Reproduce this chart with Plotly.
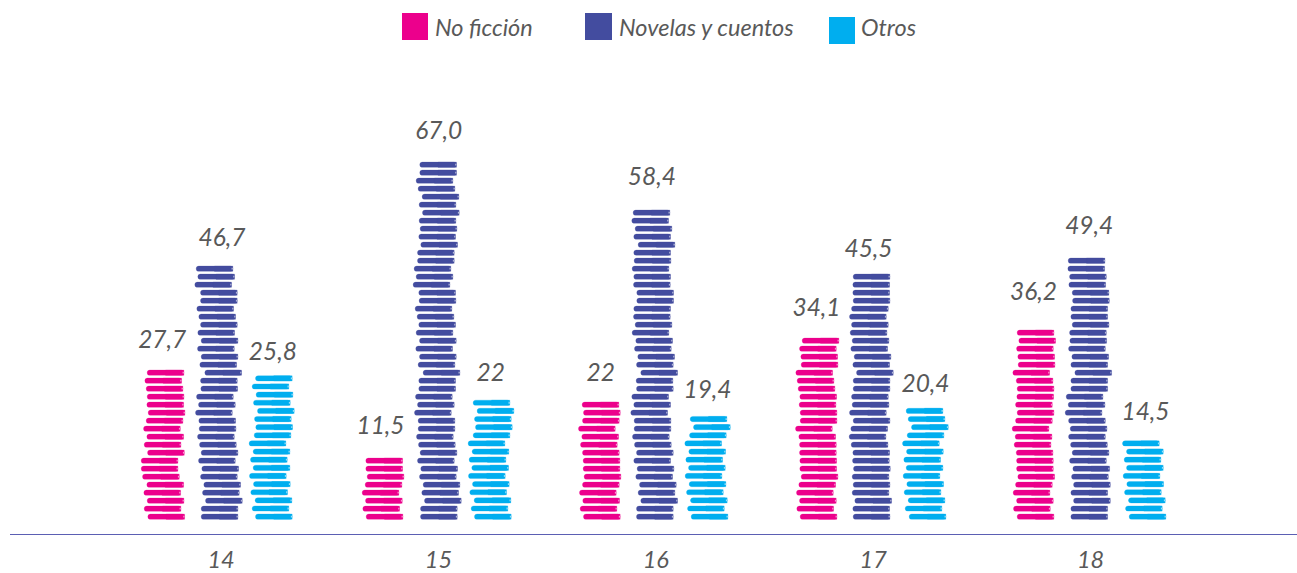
import plotly.graph_objects as go

# ---------- data ----------
AGES = ["14", "15", "16", "17", "18"]
NO_FICCION = [27.7, 11.5, 22, 34.1, 36.2]
NOVELAS = [46.7, 67.0, 58.4, 45.5, 49.4]
OTROS = [25.8, 22, 19.4, 20.4, 14.5]
NO_FICCION_LABELS = ["27,7", "11,5", "22", "34,1", "36,2"]
NOVELAS_LABELS = ["46,7", "67,0", "58,4", "45,5", "49,4"]
OTROS_LABELS = ["25,8", "22", "19,4", "20,4", "14,5"]
SERIES_NAMES = ["No ficción", "Novelas y cuentos", "Otros"]

UNITS_PER_BOOK = 1.5   # one book of the pictogram stands for about this many units

# ---------- style: sideways shift of each book, bottom book first (thirds of a pixel);
# each list holds one entry per book counted in the picture ----------
SHIFT_PINK = [
    [53,42,51,41,50,37,33,33,52,42,50,40,48,54,50,51,48,44,51],
    [33,23,31,21,30,36,32,32],
    [40,30,38,28,37,42,39,39,37,31,35,25,37,40,36],
    [45,35,43,34,41,48,44,44,43,43,41,31,45,45,42,44,39,36,32,48,47,43,51],
    [36,25,34,24,31,38,34,34,33,27,30,21,31,36,31,35,36,33,23,39,38,34,41,36],
]
SHIFT_BLUE = [
    [213,213,226,217,221,211,215,205,213,208,202,207,206,196,205,199,212,211,224,209,213,202,213,203,211,206,200,211,211,194,203,198],
    [196,196,208,200,204,193,197,187,195,190,184,189,189,178,187,181,191,191,204,189,193,182,193,183,191,186,180,192,191,174,183,177,187,187,197,191,195,192,202,192,201,189,183,194,194],
    [199,199,212,204,208,197,201,191,199,193,187,192,192,182,191,185,199,198,212,199,203,193,197,186,195,190,191,200,200,190,191,186,192,191,204,191,195,185,189],
    [204,203,209,201,204,201,205,202,203,198,192,197,204,193,201,199,204,204,214,203,207,197,201,195,199,193,199,204,203,203,204],
    [197,197,205,197,205,199,203,193,201,196,190,195,190,180,189,183,197,197,209,197,200,190,194,193,201,197,197,202,201,191,193,188,189],
]
SHIFT_CYAN = [
    [376,366,375,362,370,358,369,361,369,357,372,377,373,382,370,378,366,376],
    [358,348,357,344,352,340,350,342,351,339,354,361,358,366,354],
    [363,352,361,349,357,345,355,347,356,344,358,370,360],
    [372,360,369,357,365,354,363,356,364,352,366,379,369,363],
    [372,361,370,358,365,354,364,357,364,352],
]
# stack position relative to its regular slot in the group (pixels)
NUDGE_PINK = [-0.3, 0.6, 0.5, -0.2, -0.6]
NUDGE_BLUE = [0.0, 1.9, 0.5, -0.2, 0.1]
NUDGE_CYAN = [-0.7, 0.9, 0.2, 0.8, 3.4]
# label placement tweaks (pixels): sideways and downwards
LABEL_DX_PINK = [-4, -4, -1, -2, -2]
LABEL_DX_BLUE = [2.5, 0, -3, -3, 0]
LABEL_DX_CYAN = [-1, -2, -2, -2, -2]
LABEL_DY_PINK = [4, 4, 7, 6, 1]
LABEL_DY_BLUE = [3, 5, 5, 8, 6]
LABEL_DY_CYAN = [6, 7, 10, 9, 6]

PINK, BLUE, CYAN = "#ec008c", "#434c9f", "#00aeef"
HALO = ["rgba(236,0,140,0.25)", "rgba(67,76,159,0.25)", "rgba(0,174,239,0.25)"]
TEXT = "#595959"
FONT = "Lato"

# ---------- layout constants ----------
W, H = 1297, 573
ML, MR, MT, MB = 10, 0, 60, 39
PX_X = 217.4                       # pixels per group
PX_Y = 8 / UNITS_PER_BOOK          # pixels per unit
SLOT_PX = 53.0
BOOK_W_PX, BOOK_H_PX = 36.7, 5.2
NOTCH_W_PX, NOTCH_H_PX = 1.3, 1.8
LABEL_LIFT_PX = 23
X0 = -(219.5 - ML) / PX_X
X1 = X0 + (W - ML - MR) / PX_X
Y0 = -13.3 / PX_Y
Y1 = Y0 + (H - MT - MB) / PX_Y


def books(shifts, nudges, slot_px, pitch):
    """One horizontal bar per book; the bar grows leftwards so its rounded end is the spine."""
    ys, rights = [], []
    for i, row in enumerate(shifts):
        centre = i + (slot_px + nudges[i]) / PX_X
        for k, read in enumerate(row):
            shift = (read - row[0]) / 3 / PX_X
            rights.append(centre + shift + BOOK_W_PX / 2 / PX_X)
            ys.append((k + 0.5) * UNITS_PER_BOOK * pitch)
    return ys, rights


fig = go.Figure()
specs = [
    (SHIFT_PINK, NUDGE_PINK, -SLOT_PX, 1.0, PINK, HALO[0], SERIES_NAMES[0]),
    (SHIFT_BLUE, NUDGE_BLUE, 0.0, 1.0, BLUE, HALO[1], SERIES_NAMES[1]),
    (SHIFT_CYAN, NUDGE_CYAN, 55.0, 1.0167, CYAN, HALO[2], SERIES_NAMES[2]),
]
for shifts, nudges, slot, pitch, colour, halo, name in specs:
    ys, rights = books(shifts, nudges, slot, pitch)
    n = len(ys)
    # whole book, rounded spine
    fig.add_trace(go.Bar(
        orientation="h", name=name, y=ys, base=rights,
        x=[-BOOK_W_PX / PX_X] * n, width=BOOK_H_PX / PX_Y,
        marker=dict(color=colour, line=dict(color=halo, width=1), cornerradius="50%"),
        showlegend=False, hoverinfo="skip",
    ))
    # square right half of the book
    fig.add_trace(go.Bar(
        orientation="h", name=name, y=ys, base=rights,
        x=[-BOOK_W_PX / 2 / PX_X] * n, width=BOOK_H_PX / PX_Y,
        marker=dict(color=colour, line=dict(color=halo, width=1)),
        showlegend=False, hoverinfo="skip",
    ))
    # pages: small soft notch at the right end
    fig.add_trace(go.Bar(
        orientation="h", name=name, y=ys, base=rights,
        x=[-NOTCH_W_PX / PX_X] * n, width=NOTCH_H_PX / PX_Y,
        marker=dict(color="rgba(255,255,255,0.6)", line=dict(width=0)),
        showlegend=False, hoverinfo="skip",
    ))

label_sets = [
    (NO_FICCION, NO_FICCION_LABELS, NUDGE_PINK, -SLOT_PX, LABEL_DX_PINK, LABEL_DY_PINK),
    (NOVELAS, NOVELAS_LABELS, NUDGE_BLUE, 0.0, LABEL_DX_BLUE, LABEL_DY_BLUE),
    (OTROS, OTROS_LABELS, NUDGE_CYAN, 55.0, LABEL_DX_CYAN, LABEL_DY_CYAN),
]
for values, labels, nudges, slot, dx, dy in label_sets:
    fig.add_trace(go.Scatter(
        x=[i + (slot + nudges[i] + dx[i]) / PX_X for i in range(5)],
        y=[v + (LABEL_LIFT_PX - dy[i]) / PX_Y for i, v in enumerate(values)],
        mode="text", text=labels, textposition="top center",
        textfont=dict(family=FONT, size=24.5, color=TEXT, style="italic"),
        showlegend=False, hoverinfo="skip", cliponaxis=False,
    ))

# legend, drawn as in the reference (squares not on one line)
shapes, annotations = [], []
legend_items = [
    (SERIES_NAMES[0], PINK, 402, 428, 13, 40, 433),
    (SERIES_NAMES[1], BLUE, 585, 612, 13, 40, 617),
    (SERIES_NAMES[2], CYAN, 829, 855, 17, 44, 859),
]
for name, colour, x0, x1, y0, y1, tx in legend_items:
    shapes.append(dict(type="rect", xref="paper", yref="paper", line_width=0, fillcolor=colour,
                       x0=(x0 - ML) / (W - ML - MR), x1=(x1 - ML) / (W - ML - MR),
                       y0=1 - (y1 - MT) / (H - MT - MB), y1=1 - (y0 - MT) / (H - MT - MB)))
    annotations.append(dict(xref="paper", yref="paper", text=name, showarrow=False,
                            x=(tx - ML) / (W - ML - MR), xanchor="left",
                            y=1 - (27 - MT) / (H - MT - MB), yanchor="middle",
                            font=dict(family=FONT, size=23.5, color=TEXT, style="italic")))

fig.update_layout(
    width=W, height=H, autosize=False,
    margin=dict(l=ML, r=MR, t=MT, b=MB, pad=0, autoexpand=False),
    paper_bgcolor="white", plot_bgcolor="white",
    barmode="overlay", showlegend=False,
    shapes=shapes, annotations=annotations,
    xaxis=dict(range=[X0, X1], tickmode="array", tickvals=[i + 1.5 / PX_X for i in range(5)], ticktext=AGES,
               showgrid=False, zeroline=False, showline=True, linecolor="#5b5fb3", linewidth=1,
               ticks="", ticklabelstandoff=5, automargin=False,
               tickfont=dict(family=FONT, size=23.5, color=TEXT, style="italic")),
    yaxis=dict(range=[Y0, Y1], visible=False, showgrid=False, zeroline=False),
)
fig.write_html("out.html", config=dict(displayModeBar=False),
               post_script="document.body.style.margin='0';")
